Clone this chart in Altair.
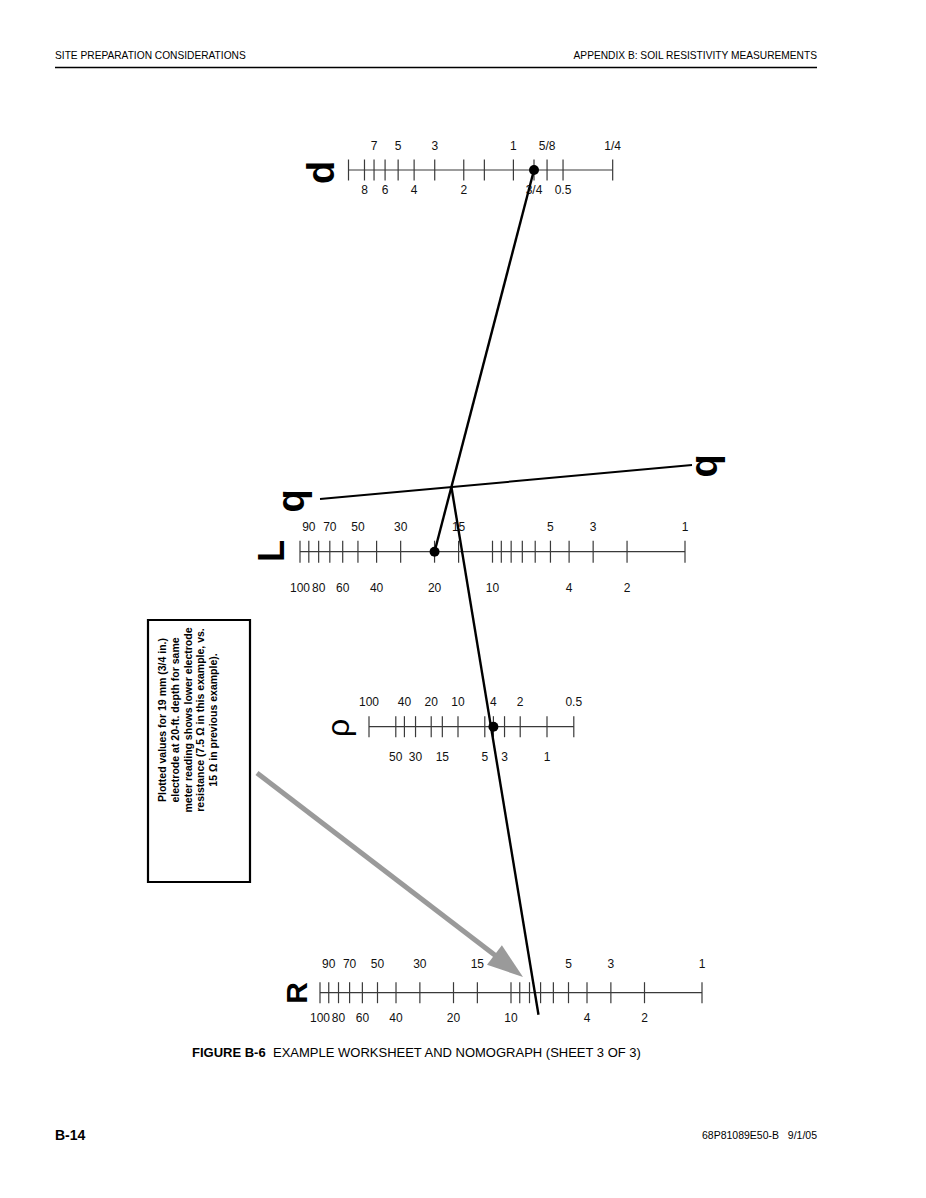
import altair as alt
import pandas as pd

# ---------------- values ----------------
d_ticks = [10, 8, 7, 6, 5, 4, 3, 2, 1.5, 1, 0.75, 0.625, 0.5, 0.25]
d_top_vals = [7, 5, 3, 1, 0.625, 0.25]
d_top_text = ["7", "5", "3", "1", "5/8", "1/4"]
d_bot_vals = [8, 6, 4, 2, 0.75, 0.5]
d_bot_text = ["8", "6", "4", "2", "3/4", "0.5"]

L_ticks = [100, 90, 80, 70, 60, 50, 40, 30, 20, 15, 10, 9, 8, 7, 6, 5, 4, 3, 2, 1]
L_top_vals = [90, 70, 50, 30, 15, 5, 3, 1]
L_bot_vals = [100, 80, 60, 40, 20, 10, 4, 2]

rho_ticks = [100, 50, 40, 30, 20, 15, 10, 5, 4, 3, 2, 1, 0.5]
rho_top_vals = [100, 40, 20, 10, 4, 2, 0.5]
rho_bot_vals = [50, 30, 15, 5, 3, 1]

R_ticks = [100, 90, 80, 70, 60, 50, 40, 30, 20, 15, 10, 9, 8, 7, 6, 5, 4, 3, 2, 1]
R_top_vals = [90, 70, 50, 30, 15, 5, 3, 1]
R_bot_vals = [100, 80, 60, 40, 20, 10, 4, 2]

example_d = 0.75     # 19 mm (3/4 in.)
example_L = 20       # 20 ft
example_rho = 4
example_R = 7.5      # ohms

note_lines = [
    "Plotted values for 19 mm (3/4 in.)",
    "electrode at 20-ft. depth for same",
    "meter reading shows lower electrode",
    "resistance (7.5 \u03a9 in this example, vs.",
    "15 \u03a9 in previous example).",
]

# ---------------- layout (page coordinates) ----------------
FONT = "Liberation Sans"
AX = "#3a3a3a"
ROW = {
    "d":   dict(y=170.0, x1=513.4, k=164.9, half=10.5, top=-24.0, bot=20.0),
    "L":   dict(y=551.7, x1=685.0, k=192.5, half=11.0, top=-25.0, bot=36.0),
    "rho": dict(y=726.7, x1=547.0, k=89.0,  half=10.5, top=-24.7, bot=30.0),
    "R":   dict(y=992.7, x1=702.0, k=191.0, half=10.5, top=-28.7, bot=25.3),
}
Q_LINE = dict(x1=320.0, y1=499.0, x2=692.0, y2=465.0)
EXT = 22.0

XS = alt.Scale(domain=[8, 918], nice=False, zero=False)
YS = alt.Scale(domain=[8, 1190], nice=False, zero=False, reverse=True)


def pos(row, field):
    r = ROW[row]
    return f"({r['x1']} - {r['k']} * log(datum.{field}) / LN10)"


def xf(f):
    return alt.X(f"{f}:Q", scale=XS, axis=None)


def yf(f):
    return alt.Y(f"{f}:Q", scale=YS, axis=None)


def xd(v):
    return alt.XDatum(v, scale=XS, axis=None)


def yd(v):
    return alt.YDatum(v, scale=YS, axis=None)


one = pd.DataFrame({"a": [0]})
layers = []


def nomo_row(row, ticks, top_vals, top_text, bot_vals, bot_text):
    r = ROW[row]
    out = []
    span = pd.DataFrame({"lo": [max(ticks)], "hi": [min(ticks)]})
    out.append(
        alt.Chart(span).transform_calculate(p1=pos(row, "lo"))
        .transform_calculate(p2=pos(row, "hi"))
        .mark_rule(color=AX, strokeWidth=1.2)
        .encode(x=xf("p1"), x2="p2:Q", y=yd(r["y"]))
    )
    out.append(
        alt.Chart(pd.DataFrame({"v": ticks})).transform_calculate(px=pos(row, "v"))
        .mark_rule(color=AX, strokeWidth=1.2)
        .encode(x=xf("px"), y=yd(r["y"] - r["half"]), y2=alt.Y2Datum(r["y"] + r["half"]))
    )
    for vals, texts, off in ((top_vals, top_text, r["top"]), (bot_vals, bot_text, r["bot"])):
        out.append(
            alt.Chart(pd.DataFrame({"v": vals, "lab": texts}))
            .transform_calculate(px=pos(row, "v"))
            .mark_text(font=FONT, fontSize=12, color="#111", baseline="middle", align="center")
            .encode(x=xf("px"), y=yd(r["y"] + off), text="lab:N")
        )
    return out


def fmt(vals):
    return [("%g" % v) for v in vals]


layers += nomo_row("d", d_ticks, d_top_vals, d_top_text, d_bot_vals, d_bot_text)
layers += nomo_row("L", L_ticks, L_top_vals, fmt(L_top_vals), L_bot_vals, fmt(L_bot_vals))
layers += nomo_row("rho", rho_ticks, rho_top_vals, fmt(rho_top_vals), rho_bot_vals, fmt(rho_bot_vals))
layers += nomo_row("R", R_ticks, R_top_vals, fmt(R_top_vals), R_bot_vals, fmt(R_bot_vals))

# q pivot line
layers.append(
    alt.Chart(one).mark_rule(color="black", strokeWidth=2)
    .encode(x=xd(Q_LINE["x1"]), x2=alt.X2Datum(Q_LINE["x2"]),
            y=yd(Q_LINE["y1"]), y2=alt.Y2Datum(Q_LINE["y2"]))
)

# construction line 1 : d -> L
ln1 = pd.DataFrame({"t": [0, 1], "vd": [example_d] * 2, "vL": [example_L] * 2})
yD, yL, yR = ROW["d"]["y"], ROW["L"]["y"], ROW["R"]["y"]
layers.append(
    alt.Chart(ln1)
    .transform_calculate(xa=pos("d", "vd"))
    .transform_calculate(xb=pos("L", "vL"))
    .transform_calculate(px="datum.xa + datum.t * (datum.xb - datum.xa)")
    .transform_calculate(py=f"{yD} + datum.t * ({yL} - {yD})")
    .mark_line(color="black", strokeWidth=2.4)
    .encode(x=xf("px"), y=yf("py"), order="t:Q")
)

# construction line 2 : pivot on q -> R (through rho)
qx1, qy1, qx2, qy2 = Q_LINE["x1"], Q_LINE["y1"], Q_LINE["x2"], Q_LINE["y2"]
ln2 = pd.DataFrame({"w": [0, 1], "vd": [example_d] * 2, "vL": [example_L] * 2,
                    "vR": [example_R] * 2})
layers.append(
    alt.Chart(ln2)
    .transform_calculate(xa=pos("d", "vd"))
    .transform_calculate(xb=pos("L", "vL"))
    .transform_calculate(
        tt=f"(({qx1} - datum.xa) * ({qy2 - qy1}) - ({qy1} - {yD}) * ({qx2 - qx1})) / "
           f"((datum.xb - datum.xa) * ({qy2 - qy1}) - ({yL} - {yD}) * ({qx2 - qx1}))")
    .transform_calculate(PX="datum.xa + datum.tt * (datum.xb - datum.xa)")
    .transform_calculate(PY=f"{yD} + datum.tt * ({yL} - {yD})")
    .transform_calculate(xr=pos("R", "vR"))
    .transform_calculate(s=f"datum.w == 0 ? 0 : ({yR} + {EXT} - datum.PY) / ({yR} - datum.PY)")
    .transform_calculate(px="datum.PX + datum.s * (datum.xr - datum.PX)")
    .transform_calculate(py=f"datum.PY + datum.s * ({yR} - datum.PY)")
    .mark_line(color="black", strokeWidth=2.4)
    .encode(x=xf("px"), y=yf("py"), order="w:Q")
)

# example dots
for row, v in (("d", example_d), ("L", example_L), ("rho", example_rho)):
    layers.append(
        alt.Chart(pd.DataFrame({"v": [v]})).transform_calculate(px=pos(row, "v"))
        .mark_circle(size=100, color="black", opacity=1)
        .encode(x=xf("px"), y=yd(ROW[row]["y"]))
    )

# big rotated scale letters
for txt, x, y, size, weight in (
    ("d", 323, 172.5, 38, "bold"),
    ("q", 293, 501, 38, "bold"),
    ("q", 706, 466, 38, "bold"),
    ("L", 273, 551, 36, "bold"),
    ("\u03c1", 339, 728, 32, "normal"),
    ("R", 298, 993, 30, "bold"),
):
    layers.append(
        alt.Chart(one).mark_text(text=txt, angle=270, font=FONT, fontSize=size,
                                 fontWeight=weight, color="black",
                                 align="center", baseline="middle")
        .encode(x=xd(x), y=yd(y))
    )

# note box
layers.append(
    alt.Chart(one).mark_rect(fillOpacity=0, stroke="black", strokeWidth=2.2)
    .encode(x=xd(148), x2=alt.X2Datum(250), y=yd(620), y2=alt.Y2Datum(882))
)
layers.append(
    alt.Chart(pd.DataFrame({"line": note_lines, "i": list(range(len(note_lines)))}))
    .transform_calculate(px="163 + 12.8 * datum.i")
    .mark_text(angle=270, font=FONT, fontSize=10.5, fontWeight="bold", color="black",
               align="center", baseline="middle")
    .encode(x=xf("px"), y=yd(720), text="line:N")
)

# gray arrow
layers.append(
    alt.Chart(one).mark_rule(color="#9a9a9a", strokeWidth=5)
    .encode(x=xd(257), x2=alt.X2Datum(496), y=yd(773), y2=alt.Y2Datum(956))
)
layers.append(
    alt.Chart(one).mark_point(shape="M0,0L-1,-0.34L-1,0.34Z", filled=True, size=5184,
                              angle=37.5, color="#9a9a9a", opacity=1, strokeWidth=0)
    .encode(x=xd(523), y=yd(977))
)

# page header / footer / caption
layers.append(
    alt.Chart(one).mark_text(text="SITE PREPARATION CONSIDERATIONS", font=FONT, fontSize=10.2,
                             align="left", baseline="alphabetic", color="black")
    .encode(x=xd(55), y=yd(59))
)
layers.append(
    alt.Chart(one).mark_text(text="APPENDIX B: SOIL RESISTIVITY MEASUREMENTS", font=FONT,
                             fontSize=10.2, align="right", baseline="alphabetic", color="black")
    .encode(x=xd(817), y=yd(59))
)
layers.append(
    alt.Chart(one).mark_rule(color="black", strokeWidth=1.5)
    .encode(x=xd(55), x2=alt.X2Datum(817), y=yd(67.5))
)
layers.append(
    alt.Chart(one).mark_text(text="FIGURE B-6", font=FONT, fontSize=13, fontWeight="bold",
                             align="left", baseline="alphabetic", color="black")
    .encode(x=xd(192), y=yd(1057))
)
layers.append(
    alt.Chart(one).mark_text(text="EXAMPLE WORKSHEET AND NOMOGRAPH (SHEET 3 OF 3)", font=FONT,
                             fontSize=13, align="left", baseline="alphabetic", color="black")
    .encode(x=xd(273), y=yd(1057))
)
layers.append(
    alt.Chart(one).mark_text(text="B-14", font=FONT, fontSize=14, fontWeight="bold",
                             align="left", baseline="alphabetic", color="black")
    .encode(x=xd(55), y=yd(1140))
)
layers.append(
    alt.Chart(one).mark_text(text="68P81089E50-B\u00a0\u00a0\u00a09/1/05", font=FONT, fontSize=10.5,
                             align="right", baseline="alphabetic", color="black")
    .encode(x=xd(817), y=yd(1139))
)

chart = (
    alt.layer(*layers)
    .properties(width=910, height=1182, padding=0,
                autosize=alt.AutoSizeParams(type="none"), background="white")
    .configure_view(stroke=None)
)

chart.save("out.html", embed_options={"renderer": "svg", "actions": False})
